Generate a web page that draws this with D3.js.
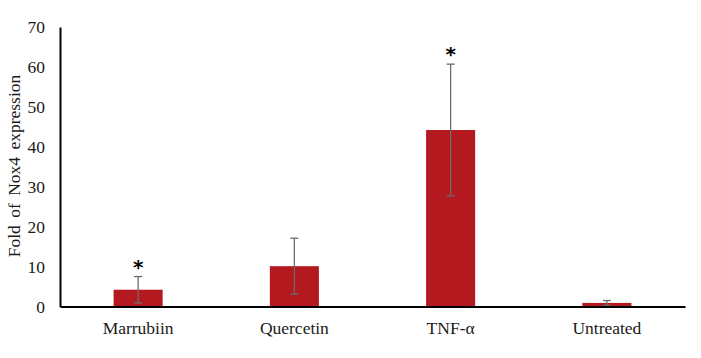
<!DOCTYPE html>
<html><head><meta charset="utf-8">
<script src="https://cdn.jsdelivr.net/npm/d3@7"></script>
<style>body{margin:0;background:#fff}svg{display:block}</style>
</head><body>
<svg id="c" width="701" height="358"></svg>
<script>
const categories = ["Marrubiin", "Quercetin", "TNF-α", "Untreated"];
const values = [4.2, 10.1, 44.2, 0.9];
const errors = [3.3, 7.0, 16.5, 0.6];
const significant = [true, false, true, false];
const yTicks = [0, 10, 20, 30, 40, 50, 60, 70];
const yTitle = "Fold of Nox4 expression";

const svg = d3.select("#c");
const mLeft = 60, mRight = 685, mTop = 27, mBottom = 306.5;
const x = d3.scaleBand().domain(categories).range([mLeft, mRight]).paddingInner(0.686).paddingOuter(0.343);
const y = d3.scaleLinear().domain([0, 70]).range([mBottom, mTop]);
const font = "Liberation Serif, Times New Roman, serif";
const fs = 17.5;

svg.selectAll("rect.bar").data(categories).join("rect")
  .attr("x", d => x(d)).attr("width", x.bandwidth())
  .attr("y", (d, i) => y(values[i])).attr("height", (d, i) => y(0) - y(values[i]))
  .attr("fill", "#B3191F");

const eb = svg.append("g").attr("stroke", "#6b6b6b").attr("stroke-width", 1.3);
categories.forEach((c, i) => {
  const cx = x(c) + x.bandwidth() / 2;
  const hi = y(values[i] + errors[i]), lo = y(Math.max(0, values[i] - errors[i]));
  eb.append("line").attr("x1", cx).attr("x2", cx).attr("y1", hi).attr("y2", lo);
  eb.append("line").attr("x1", cx - 4).attr("x2", cx + 4).attr("y1", hi).attr("y2", hi);
  eb.append("line").attr("x1", cx - 4).attr("x2", cx + 4).attr("y1", lo).attr("y2", lo);
  if (significant[i]) {
    svg.append("text").attr("x", cx).attr("y", hi - 14).attr("text-anchor", "middle")
      .attr("font-family", "DejaVu Sans, sans-serif").attr("font-weight", "bold").attr("font-size", 20)
      .attr("dy", "0.55em").text("*");
  }
});

const yAxis = d3.axisLeft(y).tickValues(yTicks).tickSize(0).tickPadding(15);
const gy = svg.append("g").attr("transform", `translate(${mLeft},0)`).call(yAxis);
gy.select(".domain").attr("stroke", "#000").attr("stroke-width", 2);
gy.selectAll("text").attr("font-family", font).attr("font-size", fs).attr("fill", "#1a1a1a");

const xAxis = d3.axisBottom(x).tickSize(0).tickPadding(15);
const gx = svg.append("g").attr("transform", `translate(0,${mBottom})`).call(xAxis);
gx.select(".domain").attr("stroke", "#000").attr("stroke-width", 2);
gx.selectAll("text").attr("font-family", font).attr("font-size", fs).attr("fill", "#1a1a1a");

svg.append("text").attr("transform", `translate(20,166) rotate(-90)`)
  .attr("text-anchor", "middle").attr("font-family", font).attr("font-size", fs)
  .attr("word-spacing", 3).attr("fill", "#1a1a1a").text(yTitle);
</script>
</body></html>
